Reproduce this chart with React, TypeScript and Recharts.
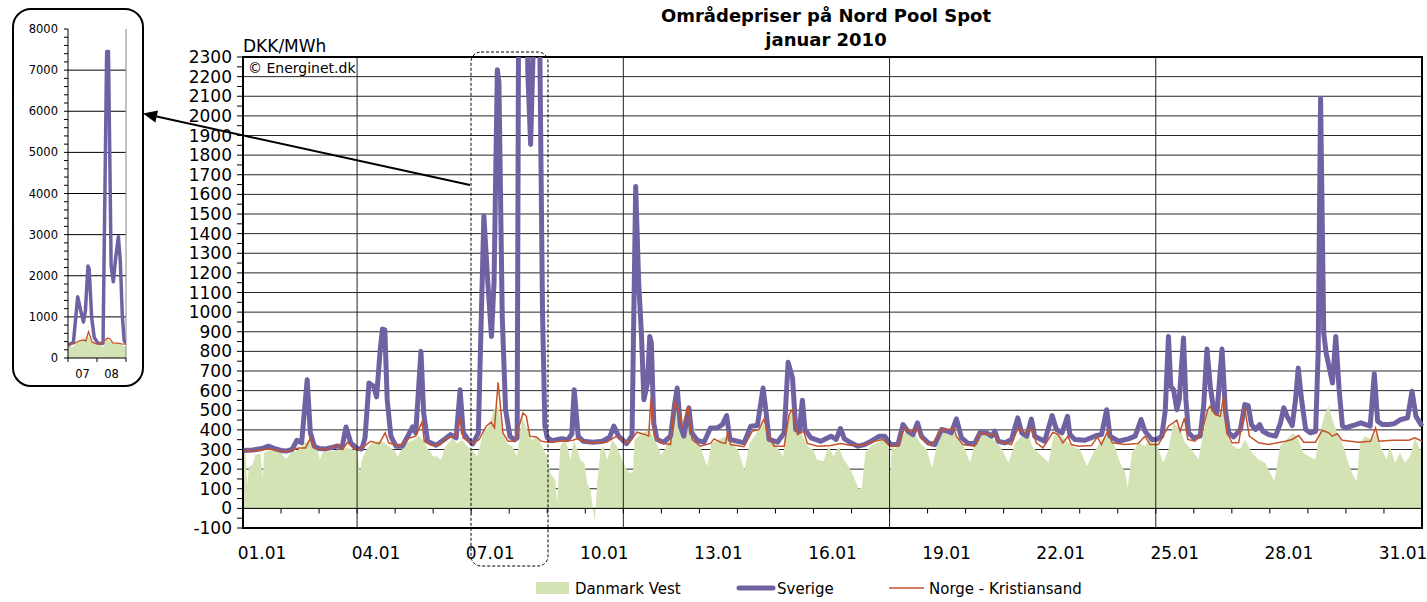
import React from "react";
import {
    Area,
    CartesianGrid,
    ComposedChart,
    Line,
    ReferenceArea,
    ReferenceLine,
    XAxis,
    YAxis,
} from "recharts";

// hour of january 2010 (0 = 01.01 00:00), price in DKK/MWh
const danmarkVest: [number, number][] = [
    [0, 298], [1.5, 290], [2.7, 120], [3.8, 213], [6, 221], [7.7, 272], [11, 280], [12.4, 155], [13.3, 285], [17, 295], [21, 292],
    [24, 285], [27, 250], [30, 282], [33, 290], [36, 305], [39, 335], [42, 345], [45, 315], [47, 300],
    [48.5, 245], [50, 285], [54, 290], [57, 295], [60, 300], [63, 300], [66, 310], [69, 300],
    [72, 290], [73.8, 175], [75, 250], [78, 300], [81, 330], [84, 340], [87, 345], [90, 330], [93, 310],
    [96, 290], [97.5, 260], [99, 285], [102, 325], [105, 340], [108, 350], [111, 370], [114, 345], [117, 300],
    [120, 265], [122.6, 264], [124.7, 247], [127.8, 315], [132, 357], [135.2, 332], [138.3, 349], [141.5, 315],
    [144.6, 298], [147.8, 264], [152, 400], [155.1, 417], [158.3, 502], [161, 520], [163.6, 383], [166.7, 332],
    [169.9, 315], [173, 264], [176.2, 468], [179.3, 400], [182.5, 349], [185.6, 366], [188.8, 315],
    [192, 264], [194, 179], [197, 145], [198.2, 26], [200.3, 315], [202.5, 349], [204.5, 323], [206.7, 247],
    [208.8, 349], [211, 298], [213, 247], [215.5, 230], [217.2, 128], [219.3, 94], [222, -68], [223.5, 128],
    [225.6, 298], [227.7, 315], [229.8, 247], [233, 349], [236, 315], [239.2, 247],
    [242, 200], [244, 180], [246.1, 187], [247.1, 349], [251.4, 383], [256.6, 400], [259.8, 349], [263, 298],
    [263.5, 270], [266, 298], [270.3, 383], [273.4, 502], [275.5, 451], [278.7, 400], [281.8, 485], [285, 400],
    [289.2, 298], [293, 213], [295.5, 332], [299.7, 349], [304, 366], [308.2, 332], [312.4, 298], [316.5, 196],
    [319.7, 332], [324, 383], [328.2, 434], [331.3, 383], [335.5, 332], [340.8, 264], [344, 468], [347.1, 485],
    [350.3, 400], [353.4, 366], [356.6, 315], [359.8, 298], [362.2, 249], [366.4, 240], [369.5, 317], [372.7, 266],
    [375.8, 317], [379, 249], [382.1, 215], [385.3, 164], [388.4, 100], [390.5, 105], [392.7, 283], [395.8, 317],
    [400, 334], [404.2, 351], [407.3, 334], [408.3, 100], [409.3, 320], [411.5, 300], [414.7, 351], [418.9, 402],
    [423.1, 393], [427.3, 334], [431.5, 300], [434.7, 207], [437.9, 317], [442.1, 393], [446.3, 385], [450.4, 368],
    [454.7, 317], [458.9, 232], [462, 351], [466.2, 385], [470.4, 368], [473.6, 351], [477.8, 317], [483, 232],
    [487.3, 334], [491.4, 368], [495.7, 385], [497.8, 317], [502, 283], [508.3, 232], [511.4, 368], [514.6, 385],
    [518.8, 351], [523, 317], [528.3, 300], [532.5, 215], [536.7, 283], [541.9, 351], [546.1, 385], [549.3, 334],
    [553.5, 232], [556.7, 181], [558.3, 105], [560.9, 283], [565.1, 334], [569.3, 317], [572.4, 368], [575.6, 351],
    [577.7, 300], [580.8, 232], [584, 300], [587.1, 436], [591.3, 402], [594.5, 334], [598.7, 300], [602.9, 249],
    [606.1, 385], [609.2, 520], [612.4, 503], [615.5, 469], [618.7, 500], [621.8, 351], [625, 317], [629.2, 300],
    [632.3, 351], [636.6, 283], [640.8, 249], [645, 232], [648.1, 181], [650.9, 139], [654.4, 317], [658.6, 351],
    [662.8, 385], [666, 351], [669.1, 283], [672.3, 266], [676.5, 249], [679.7, 385], [682.8, 486], [685, 520],
    [688.1, 436], [691.2, 368], [694.4, 317], [697.5, 232], [700.7, 164], [702.8, 139], [704.9, 334], [708, 368],
    [712.2, 351], [715.4, 385], [718.6, 300], [721.7, 249], [723.8, 317], [727, 232], [730.1, 283], [733.3, 232],
    [736.4, 266], [739.6, 359], [742.7, 300], [744, 300],
];

const sverige: [number, number][] = [
    [0, 295], [6, 297], [12, 305], [16, 317], [20, 305], [24, 295], [27, 292], [31, 300], [34, 347], [37, 334],
    [40.5, 656], [42.5, 385], [45, 317], [48, 305], [52, 303], [56, 310], [59.5, 318], [62.5, 310], [65, 415],
    [68, 334], [72, 305], [75, 303], [77, 360], [79.5, 639], [82.5, 622], [84.3, 568], [86.5, 800], [88, 914],
    [89.5, 910], [91, 554], [93.3, 368], [96.5, 317], [100.5, 317], [104, 368], [107, 415], [109, 385],
    [112.3, 800], [114, 486], [116.5, 342], [121.8, 322], [127, 351], [131, 376], [134.5, 359], [137, 604],
    [139, 385], [142, 351], [145, 329], [148.5, 383], [152, 1490], [154.5, 1150], [156.8, 876], [158.4, 1148],
    [160.5, 2235], [161.5, 2170], [163.6, 978], [165.7, 502], [168.5, 366], [171.4, 349], [173, 360],
    [176, 7450], [177.5, 7450], [179.7, 2228], [181.5, 1854], [183.5, 2450], [185.7, 2950], [187.3, 2350],
    [189, 1000], [190.5, 420], [192, 360], [195, 345], [201, 355], [205, 350], [207.5, 380], [209, 605],
    [211.5, 368], [214.7, 342], [221, 337], [227, 342], [231.5, 364], [234, 419], [237, 368], [242, 330],
    [245.5, 370], [247.8, 1640], [249.7, 1148], [251.4, 893], [253, 553], [255.2, 638], [256.7, 876],
    [257.7, 842], [259.2, 434], [261.3, 351], [265.5, 337], [269.8, 368], [272.5, 536], [274, 613], [276, 419],
    [278.2, 368], [281.4, 512], [283, 385], [286.7, 347], [290.9, 337], [295, 410], [299.3, 410], [302.5, 427],
    [305.2, 473], [307.3, 351], [312, 342], [316.2, 334], [320.4, 419], [324.6, 422], [328.2, 613], [329.9, 503],
    [332, 351], [337.3, 337], [341.5, 385], [344, 744], [346.8, 664], [348.8, 402], [351, 393], [353, 551],
    [354.6, 402], [358.4, 359], [364.7, 342], [371, 368], [374.3, 351], [377, 407], [379.5, 354], [383.7, 334],
    [388, 317], [392.2, 325], [396.4, 342], [401.7, 368], [404.9, 368], [408.7, 325], [413.3, 325], [416.5, 427],
    [419.6, 393], [422.8, 376], [425.6, 436], [428.1, 368], [432.3, 334], [436.6, 325], [440.8, 402], [445, 393],
    [447, 385], [450.2, 456], [453.4, 359], [457.6, 331], [461.8, 331], [465, 385], [469.2, 385], [472.4, 368],
    [474.5, 393], [476.6, 342], [480.8, 334], [485, 351], [488.9, 461], [491.4, 385], [494.6, 368], [497.5, 455],
    [499.6, 368], [505.9, 342], [510.6, 473], [513.3, 402], [516.9, 385], [520.3, 469], [521.8, 376],
    [524.9, 351], [531.3, 347], [538.6, 371], [541.8, 376], [545, 503], [547.1, 368], [552.4, 342], [558.7, 354],
    [563, 368], [566.7, 453], [569.2, 393], [573.5, 351], [576.6, 351], [579.8, 368], [582, 500], [584, 876],
    [585.5, 622], [587.2, 605], [589.3, 503], [590.8, 554], [593.5, 868], [595, 554], [596.7, 385], [599.9, 359],
    [604, 368], [606.2, 520], [608.3, 812], [610.4, 622], [612.5, 503], [614.6, 486], [617.8, 812], [619.9, 503],
    [622, 385], [625.2, 364], [629.4, 402], [632.2, 529], [634.3, 524], [636.4, 427], [638.9, 402], [641.6, 427],
    [643.5, 393], [647.3, 376], [651.6, 368], [654.7, 436], [656.8, 512], [658.9, 469], [662.1, 422],
    [664.2, 554], [665.9, 715], [668, 554], [670.6, 402], [673.7, 385], [676.9, 393], [678.5, 800],
    [680, 2090], [682, 893], [683.5, 792], [685.3, 724], [687.5, 639], [689.6, 876], [691.7, 605], [693.8, 419],
    [695.9, 410], [699.1, 419], [702.2, 427], [705.4, 436], [708.6, 427], [711.3, 419], [713.9, 686], [716, 444],
    [719.1, 427], [723.3, 427], [726.5, 432], [730.7, 453], [734.9, 461], [737.7, 597], [740.2, 469], [744, 419],
];

const norge: [number, number][] = [
    [0, 292], [8, 295], [16, 303], [22, 295], [27, 288], [35, 308], [39.5, 308], [42.6, 359], [45, 308],
    [52, 297], [60, 325], [62.7, 300], [66, 337], [70, 303], [73, 300], [77, 320], [80.6, 342], [86, 330],
    [89.7, 385], [92, 334], [98.6, 317], [105, 359], [109, 368], [113, 441], [114.4, 342], [118.6, 322],
    [124, 322], [129, 359], [134.5, 368], [137, 461], [139, 359], [145, 329], [149, 351], [153.5, 419],
    [156.6, 439], [158.7, 410], [161, 642], [164, 385], [167.2, 342], [171.4, 342], [176.7, 486], [178.8, 469],
    [181, 368], [185.1, 364], [188.3, 342], [193.6, 337], [200, 342], [208.3, 347], [210.4, 354], [218.9, 334],
    [229.4, 337], [235.8, 368], [243.2, 330], [248.6, 388], [253.9, 376], [256, 368], [257.5, 563], [259.6, 368],
    [263.4, 334], [269.8, 325], [272.3, 537], [275, 503], [277.1, 410], [280.7, 520], [283.4, 351], [288.7, 317],
    [295, 331], [297.2, 354], [301.4, 337], [304.5, 331], [306, 393], [307.7, 325], [316.1, 314], [321.4, 393],
    [325.6, 402], [328.8, 456], [330.9, 385], [335.1, 317], [341.5, 317], [344.6, 478], [346.7, 503],
    [349.9, 376], [353.7, 393], [356.2, 331], [362.6, 317], [371, 320], [377.3, 331], [383.7, 320], [392.1, 324],
    [398.4, 342], [403.7, 351], [408.5, 317], [413.2, 317], [417.4, 410], [421.6, 388], [425.4, 410], [428, 359],
    [434.3, 320], [440.6, 402], [445.9, 402], [448.6, 410], [450.1, 368], [454.3, 325], [461.7, 317],
    [464.9, 385], [470.1, 376], [474.4, 376], [476.5, 342], [484.9, 325], [489.1, 410], [493.3, 385],
    [497.5, 410], [500.6, 334], [504.8, 308], [511.1, 388], [514.3, 376], [517.4, 334], [520.6, 368],
    [522.7, 325], [527, 317], [535.4, 320], [539.2, 364], [541.7, 325], [545.9, 398], [548.5, 334], [556.5, 325],
    [564.9, 331], [569.2, 368], [572.4, 325], [577.7, 325], [584, 419], [589.3, 449], [591.4, 393], [594.1, 461],
    [596.2, 351], [600.8, 342], [605, 385], [608.8, 503], [610.3, 520], [613.5, 478], [616.7, 469], [618.8, 571],
    [620.9, 385], [624.1, 334], [628.3, 334], [632.1, 512], [635, 368], [640.9, 334], [647.3, 325], [657.8, 342],
    [662, 351], [666.2, 371], [669.4, 337], [676.8, 337], [681, 398], [685.2, 385], [687.3, 368], [690.5, 380],
    [693.6, 347], [704.2, 337], [711.5, 342], [714.7, 410], [716.8, 342], [725.2, 347], [735.7, 347],
    [739.5, 359], [744, 342],
];

const dateTicks = [12, 84, 156, 228, 300, 372, 444, 516, 588, 660, 732];
const dateLabels = ["01.01", "04.01", "07.01", "10.01", "13.01", "16.01", "19.01", "22.01", "25.01", "28.01", "31.01"];
const weekStarts = [72, 240, 408, 576];
const dayStarts = Array.from({ length: 32 }, (_, i) => i * 24);
const priceTicks = Array.from({ length: 49 }, (_, i) => -100 + i * 50);
const priceGrid = Array.from({ length: 24 }, (_, i) => i * 100);

const insetTicks = [144, 156, 168, 180, 192];
const insetLabels: Record<number, string> = { 156: "07", 180: "08" };
const insetPriceTicks = Array.from({ length: 41 }, (_, i) => i * 200);
const insetGrid = [1000, 2000, 3000, 4000, 5000, 6000, 7000];

const FONT = '"DejaVu Sans", Verdana, sans-serif';
const GREEN = "#d3e3b3";
const PURPLE = "#7062a2";
const RED = "#c4532b";

function mergeSeries() {
    const rows = new Map<number, any>();
    const put = (arr: [number, number][], key: string) =>
        arr.forEach(([h, v]) => {
            const row = rows.get(h) ?? { h };
            row[key] = v;
            rows.set(h, row);
        });
    put(danmarkVest, "dk");
    put(sverige, "se");
    put(norge, "no");
    return [...rows.values()].sort((a, b) => a.h - b.h);
}

const data = mergeSeries();
const insetData = data.filter((r) => r.h >= 140 && r.h <= 196);

function InsetTick(props: any) {
    const { x, y, payload } = props;
    if (payload.value % 24 === 0) {
        return <line x1={x} x2={x} y1={y - 4} y2={y} stroke="#000" />;
    }
    return (
        <text x={x} y={y + 16} textAnchor="middle" fontSize={11.5} fontFamily={FONT} fill="#000">
            {insetLabels[payload.value]}
        </text>
    );
}

function MainChart() {
    return (
        <ComposedChart
            width={1427}
            height={602}
            data={data}
            margin={{ top: 57, right: 5, bottom: 34, left: 0 }}
            style={{ position: "absolute", left: 0, top: 0 }}>
            <CartesianGrid
                horizontalValues={priceGrid}
                vertical={false}
                stroke="#000"
                strokeOpacity={0.85}
            />
            <XAxis
                dataKey="h"
                type="number"
                domain={[0, 744]}
                ticks={dateTicks}
                interval={0}
                tickFormatter={(h: number) => dateLabels[dateTicks.indexOf(h)]}
                tickLine={false}
                axisLine={false}
                tickSize={0}
                tickMargin={19}
                height={40}
                tick={{ fontSize: 17, fill: "#000", fontFamily: FONT }}
            />
            <YAxis
                type="number"
                domain={[-100, 2300]}
                allowDataOverflow
                ticks={priceTicks}
                interval={0}
                tickFormatter={(v: number) => (v % 100 === 0 ? String(v) : "")}
                width={243}
                tickSize={6}
                tickMargin={5}
                axisLine={{ stroke: "#000" }}
                tickLine={{ stroke: "#000" }}
                tick={{ fontSize: 17, fill: "#000", fontFamily: FONT }}
            />
            <Area
                dataKey="dk"
                type="linear"
                fill={GREEN}
                fillOpacity={1}
                stroke="none"
                baseValue={0}
                connectNulls
                isAnimationActive={false}
            />
            <Line
                dataKey="se"
                type="linear"
                stroke={PURPLE}
                strokeWidth={5}
                strokeLinejoin="round"
                dot={false}
                connectNulls
                isAnimationActive={false}
            />
            <Line
                dataKey="no"
                type="linear"
                stroke={RED}
                strokeWidth={1.5}
                dot={false}
                connectNulls
                isAnimationActive={false}
            />
            {weekStarts.map((h) => (
                <ReferenceLine key={`w${h}`} x={h} stroke="#222" strokeWidth={1} />
            ))}
            {dayStarts.map((h) => (
                <ReferenceLine
                    key={`d${h}`}
                    segment={[
                        { x: h, y: 0 },
                        { x: h, y: -26 },
                    ]}
                    stroke="#000"
                />
            ))}
            <ReferenceLine y={0} stroke="#000" />
            <ReferenceArea x1={0} x2={744} y1={-100} y2={2300} fill="none" stroke="#000" strokeWidth={2} />
        </ComposedChart>
    );
}

function InsetChart() {
    return (
        <ComposedChart
            width={150}
            height={400}
            data={insetData}
            margin={{ top: 29, right: 24, bottom: 12, left: 0 }}
            style={{ position: "absolute", left: 0, top: 0 }}>
            <CartesianGrid horizontalValues={insetGrid} vertical={false} stroke="#000" />
            <XAxis
                dataKey="h"
                type="number"
                domain={[144, 192]}
                allowDataOverflow
                ticks={insetTicks}
                interval={0}
                tick={<InsetTick />}
                tickLine={false}
                tickSize={4}
                tickMargin={0}
                height={30}
                axisLine={{ stroke: "#000" }}
            />
            <YAxis
                type="number"
                domain={[0, 8000]}
                allowDataOverflow
                ticks={insetPriceTicks}
                interval={0}
                tickFormatter={(v: number) => (v % 1000 === 0 ? String(v) : "")}
                width={68}
                tickSize={4}
                tickMargin={6}
                axisLine={{ stroke: "#000" }}
                tickLine={{ stroke: "#000" }}
                tick={{ fontSize: 11.5, fill: "#000", fontFamily: FONT }}
            />
            <Area
                dataKey="dk"
                type="linear"
                fill={GREEN}
                fillOpacity={1}
                stroke="none"
                baseValue={0}
                connectNulls
                isAnimationActive={false}
            />
            <Line
                dataKey="se"
                type="linear"
                stroke={PURPLE}
                strokeWidth={3.5}
                strokeLinejoin="round"
                dot={false}
                connectNulls
                isAnimationActive={false}
            />
            <Line
                dataKey="no"
                type="linear"
                stroke={RED}
                strokeWidth={1.3}
                dot={false}
                connectNulls
                isAnimationActive={false}
            />
            <ReferenceLine x={192} stroke="#888" />
        </ComposedChart>
    );
}

function Overlay() {
    return (
        <svg
            width={1427}
            height={602}
            style={{ position: "absolute", left: 0, top: 0, pointerEvents: "none" }}
            fontFamily={FONT}>
            <text x={826} y={22} textAnchor="middle" fontSize={18} fontWeight="bold">
                Områdepriser på Nord Pool Spot
            </text>
            <text x={826} y={46} textAnchor="middle" fontSize={18} fontWeight="bold">
                januar 2010
            </text>
            <text x={243} y={52} fontSize={17}>
                DKK/MWh
            </text>
            <text x={248} y={73} fontSize={14}>
                © Energinet.dk
            </text>

            {/* zoom frame + arrow to the inset */}
            <rect x={471} y={52} width={77} height={514} rx={10} fill="none" stroke="#000" strokeDasharray="3 2" />
            <line x1={470} y1={185} x2={156.7} y2={116.5} stroke="#000" strokeWidth={2} />
            <polygon points="143,113.5 155.4,122.4 158,110.6" fill="#000" />
            <rect x={13} y={9} width={130} height={377} rx={18} fill="none" stroke="#000" strokeWidth={2} />

            {/* legend */}
            <rect x={536} y={582} width={33} height={12} fill={GREEN} />
            <text x={575} y={594} fontSize={15}>
                Danmark Vest
            </text>
            <line x1={739} y1={588} x2={773} y2={588} stroke={PURPLE} strokeWidth={5} strokeLinecap="round" />
            <text x={777} y={594} fontSize={15}>
                Sverige
            </text>
            <line x1={889} y1={588} x2={924} y2={588} stroke={RED} strokeWidth={1.5} />
            <text x={929} y={594} fontSize={15}>
                Norge - Kristiansand
            </text>
        </svg>
    );
}

export default function App() {
    return (
        <div
            style={{
                position: "absolute",
                left: 0,
                top: 0,
                width: 1427,
                height: 602,
                background: "#fff",
                fontFamily: FONT,
            }}>
            <MainChart />
            <InsetChart />
            <Overlay />
        </div>
    );
}
